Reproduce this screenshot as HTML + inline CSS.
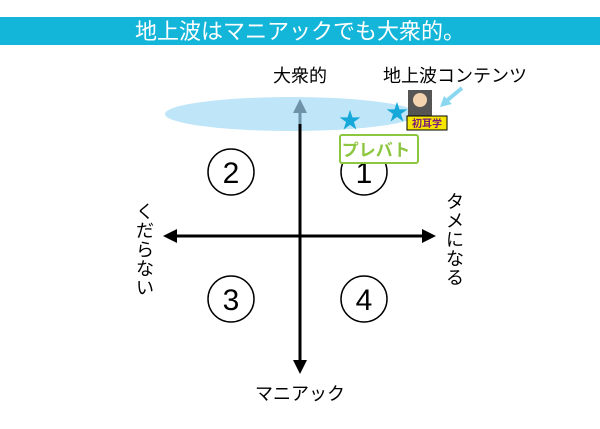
<!DOCTYPE html>
<html><head><meta charset="utf-8"><style>
body{margin:0;width:600px;height:424px;background:#fff;overflow:hidden}
svg text{font-family:"Liberation Sans","Noto Sans CJK JP",sans-serif}
</style></head><body>
<svg width="600" height="424" viewBox="0 0 600 424" xmlns="http://www.w3.org/2000/svg">
<rect x="0" y="17" width="600" height="28" fill="#13b5d9"/>
<text x="300" y="39" font-size="22" fill="#fff" text-anchor="middle">地上波はマニアックでも大衆的。</text>
<ellipse cx="291" cy="114" rx="126" ry="17" fill="#bfe6f8"/>
<line x1="300" y1="236" x2="300" y2="124" stroke="#000" stroke-width="3"/>
<line x1="300" y1="124" x2="300" y2="110" stroke="#6e92a8" stroke-width="3"/>
<polygon points="300,99 293,113 307,113" fill="#6e92a8"/>
<line x1="300" y1="236" x2="300" y2="362" stroke="#000" stroke-width="3"/>
<polygon points="300,374 293,360 307,360" fill="#000"/>
<line x1="175" y1="236" x2="424" y2="236" stroke="#000" stroke-width="3"/>
<polygon points="163,236 177,229 177,243" fill="#000"/>
<polygon points="436,236 422,229 422,243" fill="#000"/>
<g fill="none" stroke="#000" stroke-width="1.5">
<circle cx="231" cy="172" r="23"/><circle cx="364" cy="172" r="23"/>
<circle cx="231" cy="299" r="23"/><circle cx="364" cy="299" r="23"/></g>
<g font-size="30" text-anchor="middle" fill="#000">
<text x="231" y="183">2</text><text x="364" y="183">1</text>
<text x="231" y="310">3</text><text x="364" y="310">4</text></g>
<text x="300" y="82" font-size="18" text-anchor="middle">大衆的</text>
<text x="300" y="400" font-size="18" text-anchor="middle">マニアック</text>
<text x="455" y="82" font-size="18" text-anchor="middle">地上波コンテンツ</text>
<g font-size="18" text-anchor="middle">
<text x="145" y="218">く</text><text x="145" y="237">だ</text><text x="145" y="256">ら</text><text x="145" y="275">な</text><text x="145" y="294">い</text>
<text x="455" y="208">タ</text><text x="455" y="227">メ</text><text x="455" y="246">に</text><text x="455" y="265">な</text><text x="455" y="284">る</text></g>
<g fill="#15a8d8">
<text x="350" y="128" font-size="22" text-anchor="middle">★</text>
<text x="397" y="120" font-size="22" text-anchor="middle">★</text></g>
<rect x="340" y="135" width="78" height="28" rx="2" fill="#fff" stroke="#8dc63f" stroke-width="2"/>
<text x="376" y="156" font-size="17" font-weight="bold" fill="#8dc63f" text-anchor="middle">プレバト</text>
<rect x="408" y="90" width="24" height="26" fill="#555"/>
<circle cx="420" cy="100" r="7" fill="#f3d2b0"/>
<rect x="407" y="116" width="40" height="14" fill="#f5e600" stroke="#000"/>
<text x="427" y="127" font-size="10" font-weight="bold" fill="#7a1a7a" text-anchor="middle">初耳学</text>
<line x1="462" y1="88" x2="444" y2="103" stroke="#8ad8f0" stroke-width="4"/>
<polygon points="440,107 444,96 452,104" fill="#8ad8f0"/>
</svg>
</body></html>
